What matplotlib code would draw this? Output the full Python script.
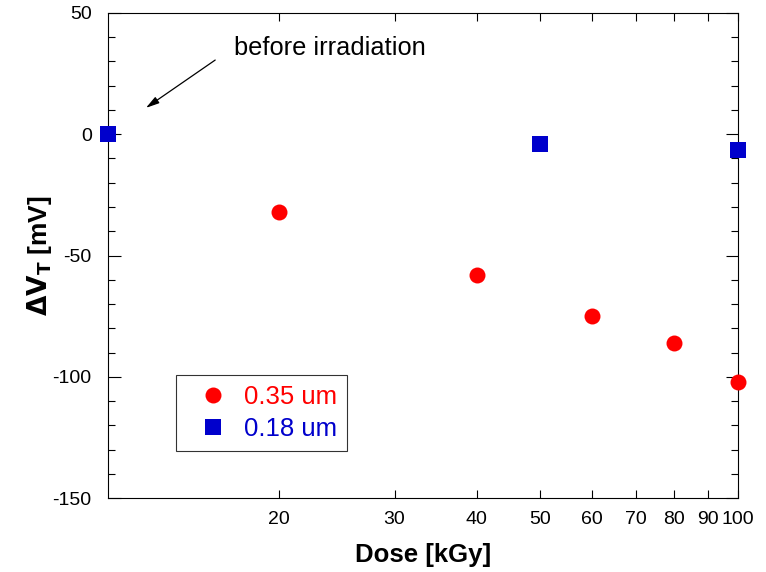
"""
Threshold voltage shift vs. dose
"""

import matplotlib.pyplot as plt
from matplotlib.ticker import FixedLocator, MultipleLocator, NullLocator, NullFormatter

plt.rcParams['font.family'] = ['Liberation Sans', 'DejaVu Sans']
plt.rcParams['axes.unicode_minus'] = False

# data: dose 11 kGy stands for "before irradiation" (left edge of the axis)
dose_035 = [20, 40, 60, 80, 100]
dvt_035 = [-32, -58, -75, -86, -102]

dose_018 = [11, 50, 100]
dvt_018 = [0, -4, -6.5]

x_ticks = [20, 30, 40, 50, 60, 70, 80, 90, 100]
y_ticks = [-150, -100, -50, 0, 50]

RED = '#ff0000'
BLUE = '#0000cc'


def draw():
    fig = plt.figure(figsize=(7.66, 5.72), dpi=100)
    ax = fig.add_axes([0.1414, 0.1288, 0.8220, 0.8490])

    ax.plot(dose_035, dvt_035, 'o', color=RED, markersize=11.5,
            markeredgewidth=0, label='0.35 um', clip_on=False, zorder=5)
    ax.plot(dose_018, dvt_018, 's', color=BLUE, markersize=11.5,
            markeredgewidth=0, label='0.18 um', clip_on=False, zorder=5)

    ax.set_xscale('log')
    ax.set_xlim(11, 100)
    ax.set_ylim(-150, 50)

    ax.xaxis.set_major_locator(FixedLocator(x_ticks))
    ax.set_xticklabels([str(t) for t in x_ticks])
    ax.xaxis.set_minor_locator(NullLocator())
    ax.xaxis.set_minor_formatter(NullFormatter())
    ax.yaxis.set_major_locator(FixedLocator(y_ticks))
    ax.yaxis.set_minor_locator(MultipleLocator(10))

    ax.tick_params(which='both', direction='in', top=True, right=True,
                   width=0.8, labelsize=14)
    ax.tick_params(axis='x', which='major', length=6, pad=9)
    ax.tick_params(axis='y', which='major', length=9, pad=12)
    ax.tick_params(axis='y', which='minor', length=5)
    for s in ax.spines.values():
        s.set_linewidth(0.8)

    ax.set_xlabel('Dose [kGy]', fontsize=18.5, fontweight='bold', labelpad=11)
    ax.set_ylabel(r'$\mathbf{\Delta V_T}$ [mV]', fontsize=19, fontweight='bold',
                  labelpad=-1)

    # annotation
    ax.text(17.1, 35.5, 'before irradiation', fontsize=18.3, ha='left', va='center')
    ax.annotate('', xy=(12.55, 10.8), xytext=(16.0, 30.5),
                arrowprops=dict(arrowstyle='-|>,head_length=0.8,head_width=0.22',
                                color='black', lw=0.9, shrinkA=0, shrinkB=0))

    leg = ax.legend(loc='lower left', bbox_to_anchor=(0.1075, 0.0974),
                    borderaxespad=0, fancybox=False, frameon=True,
                    fontsize=18.5, handlelength=2.1, handletextpad=0.15,
                    borderpad=0.4, labelspacing=0.3, edgecolor='black')
    leg.get_frame().set_linewidth(0.8)
    for txt, c in zip(leg.get_texts(), [RED, BLUE]):
        txt.set_color(c)

    fig.savefig('out.png', dpi=100, facecolor='white')
    plt.close(fig)


if __name__ == '__main__':
    draw()
